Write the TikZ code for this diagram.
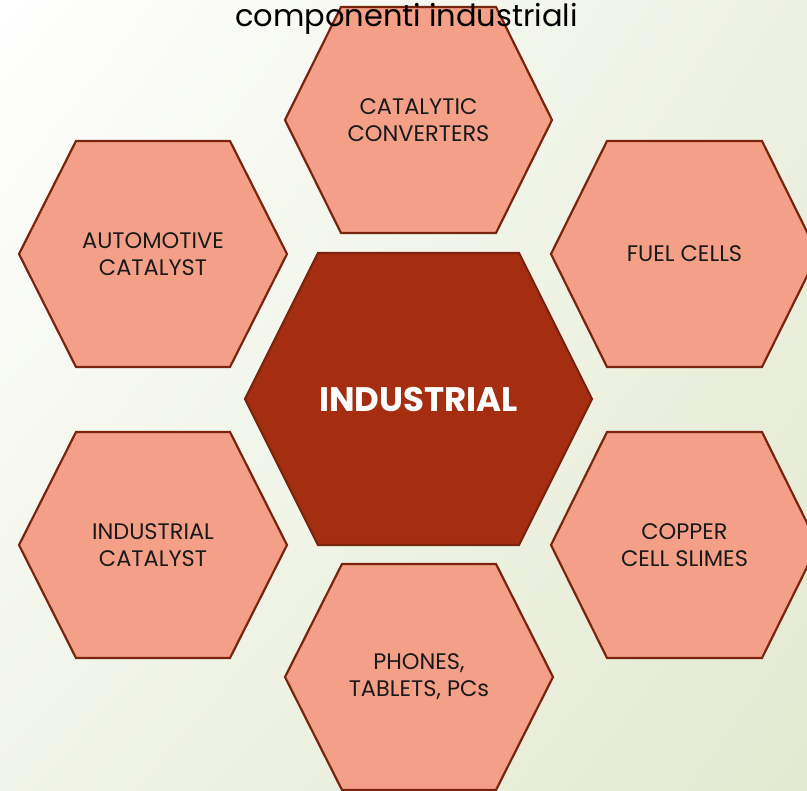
\documentclass[tikz,border=0pt]{standalone}
\usepackage{fontspec}
\setmainfont{Poppins}
\usetikzlibrary{calc,shadings}

\definecolor{hexfill}{HTML}{F4A089}
\definecolor{hexedge}{HTML}{7A2410}
\definecolor{corefill}{HTML}{A52D10}
\definecolor{bgcorner}{HTML}{E2EACF}
\definecolor{bgupright}{HTML}{EDF1E2}
\definecolor{bglowleft}{HTML}{F1F4E8}
\definecolor{labelink}{HTML}{1A1A1A}

% hexagon outline: centre x, centre y, half width, half height, corner inset
\newcommand{\hexpath}[5]{%
  (#1-#3,#2) -- (#1-#3+#5,#2-#4) -- (#1+#3-#5,#2-#4) --
  (#1+#3,#2) -- (#1+#3-#5,#2+#4) -- (#1-#3+#5,#2+#4) -- cycle}

\tikzset{
  hexshape/.style={fill=hexfill, draw=hexedge, line width=2.2pt, line join=miter},
  coreshape/.style={fill=corefill, draw=hexedge, line width=2.2pt, line join=miter},
  hexlabel/.style={text=labelink, align=center, font=\fontsize{22.5}{27}\selectfont},
  corelabel/.style={text=white, font=\fontsize{34}{40}\selectfont\bfseries},
  titlelabel/.style={text=black, font=\fontsize{30.5}{34}\selectfont},
}

\begin{document}
\begin{tikzpicture}[x=1pt, y=-1pt]
  \useasboundingbox (0,0) rectangle (807,791);
  \shade[upper left=white, upper right=bgupright, lower left=bglowleft, lower right=bgcorner]
    (0,0) rectangle (807,791);

  % outer ring of six hexagons
  \draw[hexshape] \hexpath{418.5}{120}{133.5}{113}{56};
  \draw[hexshape] \hexpath{153}{254}{134}{113}{57};
  \draw[hexshape] \hexpath{684.5}{254}{133.5}{113}{56};
  \draw[hexshape] \hexpath{153}{545}{134}{113}{57};
  \draw[hexshape] \hexpath{684.5}{545}{133.5}{113}{56};
  \draw[hexshape] \hexpath{419}{677}{134}{113}{57};

  % central hexagon
  \draw[coreshape] \hexpath{418.5}{399}{173.5}{146}{73};

  \node[hexlabel] (catconv) at (418.5,120) {CATALYTIC\\CONVERTERS};
  \node[hexlabel] (autocat) at (153,254) {AUTOMOTIVE\\CATALYST};
  \node[hexlabel] (fuel) at (684.5,254) {FUEL CELLS};
  \node[hexlabel] (indcat) at (153,545) {INDUSTRIAL\\CATALYST};
  \node[hexlabel] (copper) at (684.5,545) {COPPER\\CELL SLIMES};
  \node[hexlabel] (phones) at (419,677) {PHONES,\\TABLETS, PCs};
  \node[corelabel] (core) at (418.5,400) {INDUSTRIAL};

  \node[titlelabel, anchor=base] (title) at (406.5,27) {componenti industriali};
\end{tikzpicture}
\end{document}
